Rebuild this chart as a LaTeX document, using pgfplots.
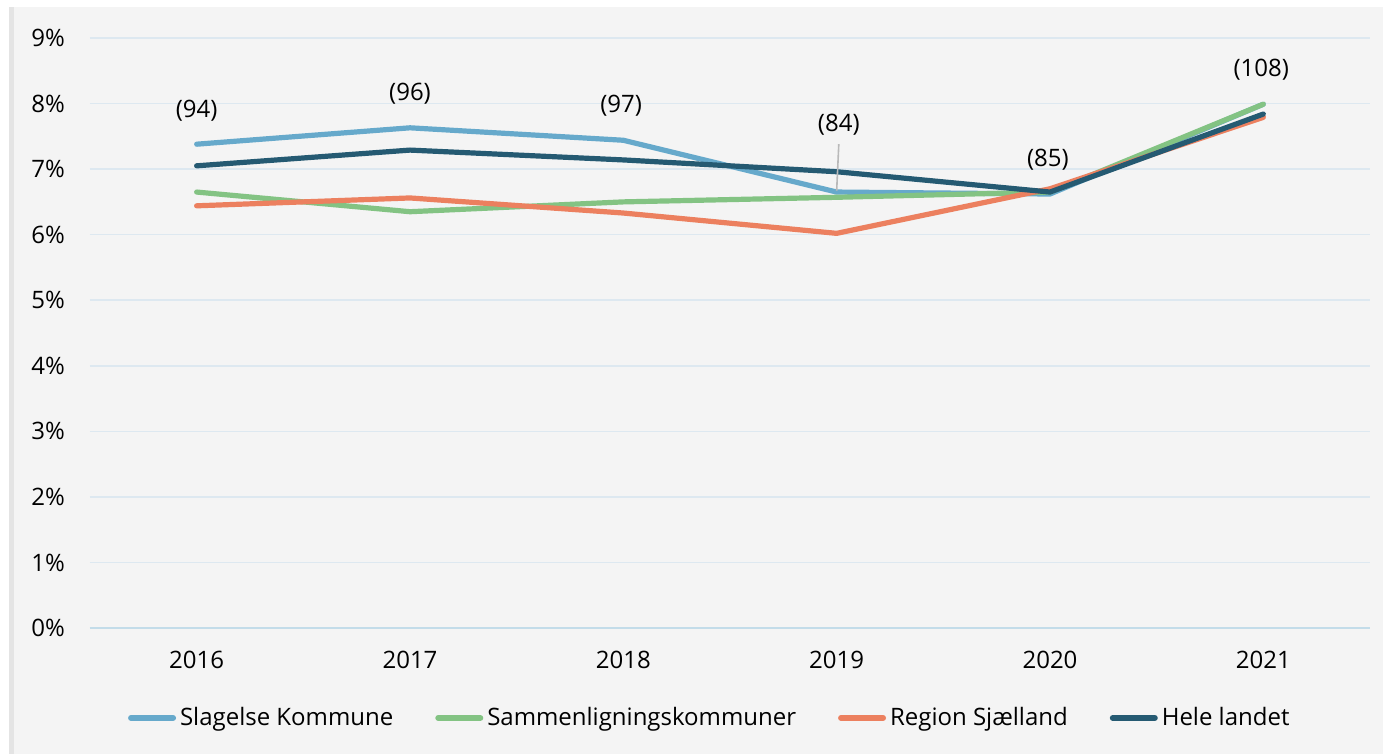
\documentclass[border=0pt]{standalone}
\usepackage{fontspec}
\setmainfont{Open Sans}
\usepackage{pgfplots}
\pgfplotsset{compat=1.18}
\definecolor{cSlag}{HTML}{66A9CB}
\definecolor{cSam}{HTML}{83C383}
\definecolor{cReg}{HTML}{EC805F}
\definecolor{cHele}{HTML}{255A72}
\definecolor{bg}{HTML}{F4F4F4}
\definecolor{strip}{HTML}{E4E4E4}
\definecolor{gridc}{HTML}{DDE8F0}
\definecolor{zeroc}{HTML}{C3DCE9}
\begin{document}
\begin{tikzpicture}
\fill[white] (-45pt,-63pt) rectangle (646.5pt,314pt);
\fill[strip] (-40.5pt,-63pt) rectangle (646.5pt,310.5pt);
\fill[bg] (-38pt,-63pt) rectangle (646.5pt,310.5pt);
\useasboundingbox (-45pt,-63pt) rectangle (646.5pt,314pt);
\begin{axis}[
  at={(0,0)}, anchor=south west,
  scale only axis, width=640pt, height=295pt,
  xmin=-0.5, xmax=5.5, ymin=0, ymax=9,
  xtick={0,1,2,3,4,5},
  xticklabels={2016,2017,2018,2019,2020,2021},
  ytick={0,1,...,9},
  yticklabel={\pgfmathprintnumber{\tick}\%},
  /pgf/number format/assume math mode=true,
  axis line style={draw=none},
  major tick length=0pt,
  ymajorgrids, grid style={gridc, line width=0.8pt},
  tick label style={font=\fontsize{12}{14}\selectfont, text=black},
  xticklabel style={yshift=-8pt},
  yticklabel style={xshift=-9pt},
  legend columns=4,
  legend style={at={(0.485,-0.1525)}, anchor=center, draw=none, fill=none,
    font=\fontsize{12}{14}\selectfont, column sep=0pt,
    /tikz/every even column/.append style={column sep=19pt}},
  legend image code/.code={\draw[#1, line width=3pt, line cap=round] (0pt,0pt) -- (21pt,0pt);},
  every axis plot/.append style={line width=2.6pt, line join=round, line cap=round},
  clip=false,
]
\draw[zeroc, line width=1.2pt] (axis cs:-0.5,0) -- (axis cs:5.5,0);
\addplot[cSlag] coordinates {(0,7.38) (1,7.63) (2,7.44) (3,6.65) (4,6.62) (5,7.99)};
\addlegendentry{Slagelse Kommune}
\addplot[cSam] coordinates {(0,6.65) (1,6.35) (2,6.50) (3,6.57) (4,6.65) (5,7.99)};
\addlegendentry{Sammenligningskommuner}
\addplot[cReg] coordinates {(0,6.44) (1,6.56) (2,6.33) (3,6.02) (4,6.70) (5,7.79)};
\addlegendentry{Region Sjælland}
\addplot[cHele] coordinates {(0,7.05) (1,7.29) (2,7.14) (3,6.96) (4,6.65) (5,7.84)};
\addlegendentry{Hele landet}
\draw[gray!55, line width=0.8pt] (axis cs:3.01,7.38) -- (axis cs:3,6.67);
\begin{scope}[every node/.style={font=\fontsize{12}{14}\selectfont}]
\node at (axis cs:0,7.89) {(94)};
\node at (axis cs:1,8.15) {(96)};
\node at (axis cs:1.99,7.96) {(97)};
\node at (axis cs:3.01,7.67) {(84)};
\node at (axis cs:3.99,7.14) {(85)};
\node at (axis cs:4.99,8.51) {(108)};
\end{scope}
\end{axis}
\end{tikzpicture}
\end{document}
